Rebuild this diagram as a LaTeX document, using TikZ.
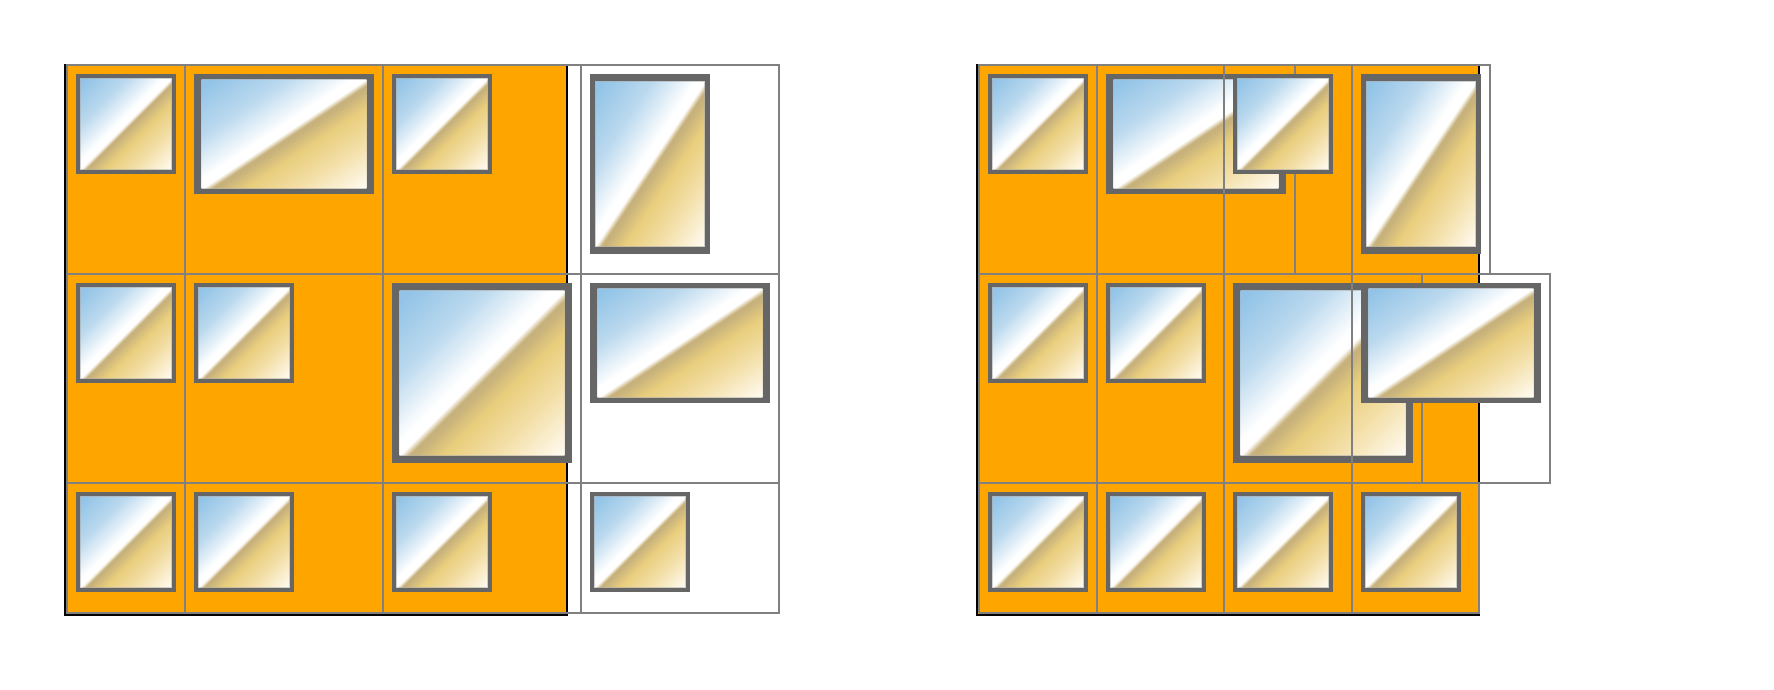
\documentclass[tikz,border=0pt]{standalone}
\usepackage{tikz}
\definecolor{frameorange}{HTML}{FFA500}
\definecolor{gridgray}{HTML}{808080}
\definecolor{iconedge}{HTML}{666666}
\definecolor{skya}{HTML}{93C4E7}
\definecolor{skyb}{HTML}{BBD9EE}
\definecolor{sanda}{HTML}{C8B27C}
\definecolor{sandb}{HTML}{E9CE7D}
\definecolor{sandc}{HTML}{F3DFA8}
\definecolor{sandd}{HTML}{FFFCF4}
\pgfdeclarehorizontalshading{iconshade}{100bp}{
  color(0bp)=(skya); color(8bp)=(skya); color(28bp)=(skyb); color(46bp)=(white); color(50bp)=(white);
  color(52.5bp)=(sanda); color(54bp)=(sanda); color(62bp)=(sandb); color(76bp)=(sandc); color(95.5bp)=(sandd); color(100bp)=(sandd)}
\tikzset{
  gridline/.style={draw=gridgray,line width=2pt},
  edgeline/.style={draw=black,line width=2pt},
  backplate/.style={fill=frameorange},
  iconframe/.style={fill=iconedge},
  iconfringe/.style={draw=white!68!black,line width=0.8pt,opacity=.55}
}
% outer x, outer y, outer width, outer height
\newcommand{\iconimg}[4]{%
  \fill[iconframe] (#1,#2) rectangle ++(#3,#4);
  \pgfmathsetmacro\bx{#3*0.042}\pgfmathsetmacro\by{#4*0.042}%
  \pgfmathsetmacro\ix{#1+\bx}\pgfmathsetmacro\iy{#2+\by}%
  \pgfmathsetmacro\iw{#3-2*\bx}\pgfmathsetmacro\ih{#4-2*\by}%
  \begin{scope}
    \clip (\ix,\iy) rectangle ++(\iw,\ih);
    \pgfmathsetmacro\sa{1.1*\iw/100.375}\pgfmathsetmacro\sb{1.1*\ih/100.375}%
    \pgfmathsetmacro\cx{\ix+\iw/2}\pgfmathsetmacro\cy{-\iy-\ih/2}%
    \begin{pgfscope}
      \pgflowlevel{\pgftransformcm{\sa}{-\sb}{\sa}{\sb}{\pgfpoint{\cx pt}{\cy pt}}}%
      \pgfuseshading{iconshade}%
    \end{pgfscope}
    \draw[iconfringe] (\ix+0.3,\iy+0.3) rectangle ++(\iw-0.6,\ih-0.6);
  \end{scope}
}
\begin{document}
\begin{tikzpicture}[x=1pt,y=-1pt]
\useasboundingbox (0,0) rectangle (1774,690);
% ---------- left layout ----------
\fill[backplate] (65,65) rectangle (567,615);
\draw[edgeline] (65,64) -- (65,615) -- (567,615) -- (567,65);
\iconimg{76}{74}{100}{100}
\iconimg{194}{74}{180}{120}
\iconimg{392}{74}{100}{100}
\iconimg{590}{74}{120}{180}
\iconimg{76}{283}{100}{100}
\iconimg{194}{283}{100}{100}
\iconimg{392}{283}{180}{180}
\iconimg{590}{283}{180}{120}
\iconimg{76}{492}{100}{100}
\iconimg{194}{492}{100}{100}
\iconimg{392}{492}{100}{100}
\iconimg{590}{492}{100}{100}
\draw[gridline] (67,65) rectangle (779,613);
\draw[gridline] (67,274) -- (779,274);
\draw[gridline] (67,483) -- (779,483);
\draw[gridline] (185,65) -- (185,613);
\draw[gridline] (383,65) -- (383,613);
\draw[gridline] (581,65) -- (581,613);
% ---------- right layout ----------
\fill[backplate] (977,65) rectangle (1479,615);
\draw[edgeline] (977,64) -- (977,615) -- (1479,615) -- (1479,65);
\iconimg{1106}{74}{180}{120}
\iconimg{1233}{283}{180}{180}
\draw[gridline] (979,613) -- (979,65) -- (1490,65) -- (1490,274);
\draw[gridline] (979,274) -- (1550,274) -- (1550,483) -- (979,483);
\draw[gridline] (979,613) -- (1479,613) -- (1479,483);
\draw[gridline] (1097,65) -- (1097,613);
\draw[gridline] (1224,65) -- (1224,613);
\draw[gridline] (1295,65) -- (1295,274);
\draw[gridline] (1352,65) -- (1352,613);
\draw[gridline] (1422,274) -- (1422,483);
\iconimg{988}{74}{100}{100}
\iconimg{1233}{74}{100}{100}
\iconimg{1361}{74}{120}{180}
\iconimg{988}{283}{100}{100}
\iconimg{1106}{283}{100}{100}
\iconimg{1361}{283}{180}{120}
\iconimg{988}{492}{100}{100}
\iconimg{1106}{492}{100}{100}
\iconimg{1233}{492}{100}{100}
\iconimg{1361}{492}{100}{100}
\end{tikzpicture}
\end{document}
